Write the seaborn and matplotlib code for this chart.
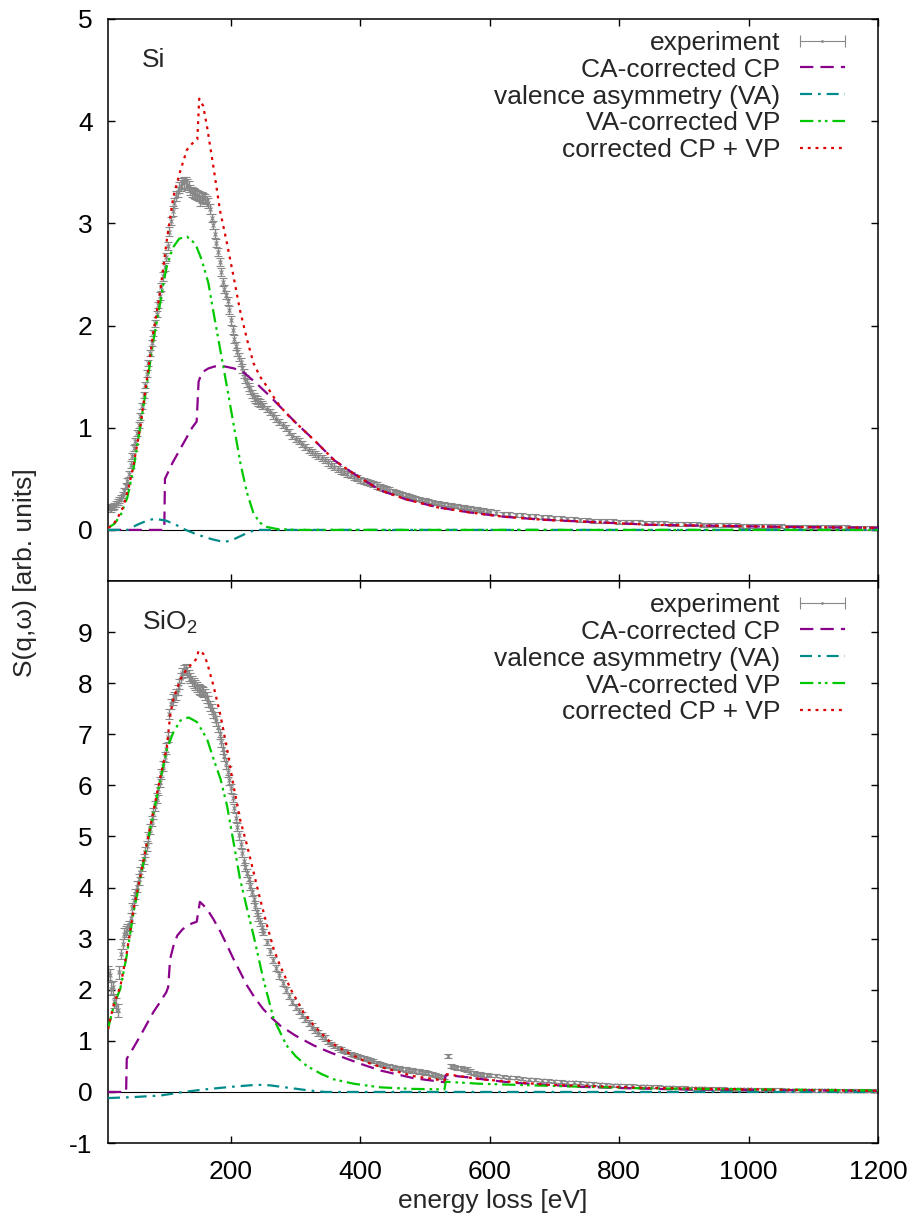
import numpy as np
import matplotlib
matplotlib.use("Agg")
import matplotlib.pyplot as plt
from matplotlib.legend_handler import HandlerErrorbar
from matplotlib.container import ErrorbarContainer
import seaborn as sns

# --- measurement energies [eV]: 2.5 eV steps to 250, 5 eV to 600, 10 eV to 1200 ---
E_EXP = np.concatenate([np.arange(10, 250, 2.5), np.arange(250, 600, 5),
                        np.arange(600, 1201, 10)])

# --- Si: experiment ---
SI_EXP = [
    0.22, 0.21, 0.21, 0.22, 0.23, 0.25, 0.27, 0.29, 0.31, 0.34,
    0.38, 0.43, 0.48, 0.55, 0.64, 0.72, 0.80, 0.87, 0.95, 1.03,
    1.11, 1.21, 1.32, 1.42, 1.53, 1.63, 1.73, 1.83, 1.93, 2.02,
    2.11, 2.20, 2.29, 2.38, 2.48, 2.57, 2.67, 2.78, 2.92, 3.02,
    3.12, 3.20, 3.27, 3.31, 3.35, 3.37, 3.39, 3.40, 3.40, 3.38,
    3.36, 3.33, 3.31, 3.30, 3.29, 3.28, 3.27, 3.22, 3.26, 3.25,
    3.24, 3.22, 3.20, 3.14, 3.05, 2.98, 2.90, 2.81, 2.72, 2.62,
    2.52, 2.43, 2.36, 2.30, 2.24, 2.15, 2.05, 1.96, 1.87, 1.80,
    1.74, 1.69, 1.64, 1.58, 1.53, 1.48, 1.44, 1.40, 1.37, 1.33,
    1.30, 1.28, 1.27, 1.25, 1.24, 1.22,
    1.21, 1.18, 1.15, 1.12, 1.09, 1.06, 1.03, 1.00, 0.96, 0.92,
    0.89, 0.87, 0.84, 0.81, 0.78, 0.76, 0.74, 0.72, 0.70, 0.68,
    0.66, 0.64, 0.62, 0.60, 0.58, 0.565, 0.55, 0.535, 0.52, 0.505,
    0.49, 0.48, 0.47, 0.46, 0.45, 0.435, 0.42, 0.41, 0.40, 0.39,
    0.38, 0.37, 0.36, 0.35, 0.34, 0.33, 0.32, 0.31, 0.30, 0.295,
    0.29, 0.28, 0.27, 0.265, 0.26, 0.255, 0.25, 0.245, 0.24, 0.235,
    0.23, 0.225, 0.22, 0.215, 0.21, 0.205, 0.20, 0.195, 0.19, 0.185,
    0.18, 0.17, 0.16, 0.155, 0.15, 0.145, 0.14, 0.135, 0.13, 0.125,
    0.12, 0.115, 0.11, 0.105, 0.10, 0.095, 0.09, 0.09, 0.085, 0.085,
    0.08, 0.08, 0.075, 0.075, 0.07, 0.07, 0.065, 0.065, 0.06, 0.06,
    0.06, 0.055, 0.055, 0.05, 0.05, 0.05, 0.045, 0.045, 0.045, 0.04,
    0.04, 0.04, 0.04, 0.035, 0.035, 0.035, 0.03, 0.03, 0.03, 0.03,
    0.03, 0.03, 0.025, 0.025, 0.025, 0.025, 0.02, 0.02, 0.02, 0.02, 0.02]
# error bar sizes, given as runs of equal size along the energy grid
SI_ERR_LEVELS = [0.03, 0.04, 0.05, 0.04, 0.03, 0.02]
SI_ERR_COUNTS = [32, 8, 24, 32, 40, 91]

# --- Si: theory ---
SI_CP_E = [10, 97, 98, 110, 125, 140, 147, 150, 155, 165, 175, 190, 205, 220, 240, 260,
           280, 300, 330, 360, 390, 430, 470, 520, 570, 620, 680, 750, 850, 950, 1050, 1200]
SI_CP = [0.0, 0.0, 0.50, 0.66, 0.83, 1.00, 1.06, 1.45, 1.54, 1.58, 1.60, 1.60, 1.58, 1.54,
         1.43, 1.31, 1.18, 1.05, 0.87, 0.68, 0.55, 0.39, 0.30, 0.22, 0.17, 0.13, 0.10,
         0.08, 0.05, 0.04, 0.03, 0.02]

SI_VA_E = [10, 40, 55, 70, 82, 100, 115, 130, 150, 170, 190, 205, 225, 238, 260, 1200]
SI_VA = [0.0, 0.0, 0.05, 0.09, 0.11, 0.09, 0.05, 0.0, -0.05, -0.09, -0.12, -0.09, -0.03,
         0.0, 0.0, 0.0]

SI_VP_E = [10, 20, 30, 40, 50, 60, 70, 80, 90, 100, 110, 120, 132, 145, 155, 165, 175,
           185, 195, 205, 215, 225, 235, 245, 255, 270, 300, 1200]
SI_VP = [0.02, 0.06, 0.15, 0.32, 0.62, 1.02, 1.42, 1.85, 2.20, 2.56, 2.76, 2.85, 2.87,
         2.80, 2.64, 2.42, 2.06, 1.71, 1.36, 1.00, 0.64, 0.36, 0.16, 0.07, 0.03, 0.01,
         0.0, 0.0]

SI_SUM_E = [10, 18, 25, 34, 42, 49, 60, 70, 80, 91, 101, 111, 122, 132, 140, 148, 151,
            157, 163, 173, 183, 194, 204, 214, 225, 235, 245, 256, 266, 276, 290, 300,
            330, 360, 390, 430, 470, 520, 570, 620, 680, 750, 850, 950, 1050, 1200]
SI_SUM = [0.02, 0.05, 0.12, 0.23, 0.42, 0.62, 1.01, 1.47, 1.93, 2.35, 2.84, 3.26, 3.52,
          3.72, 3.78, 3.82, 4.22, 4.15, 3.95, 3.55, 3.13, 2.80, 2.48, 2.15, 1.86, 1.63,
          1.50, 1.40, 1.30, 1.21, 1.11, 1.05, 0.87, 0.68, 0.55, 0.39, 0.30, 0.22, 0.17,
          0.13, 0.10, 0.08, 0.05, 0.04, 0.03, 0.02]

# --- SiO2: experiment ---
SIO2_EXP = [
    2.33, 2.28, 2.02, 2.05, 1.78, 1.70, 1.60, 2.34, 2.70, 2.90,
    3.10, 3.14, 3.18, 3.25, 3.40, 3.60, 3.76, 3.88, 4.02, 4.16,
    4.30, 4.43, 4.56, 4.69, 4.82, 4.98, 5.14, 5.30, 5.45, 5.60,
    5.76, 5.92, 6.07, 6.22, 6.38, 6.56, 6.72, 6.95, 7.40, 7.60,
    7.68, 7.73, 7.78, 7.86, 7.98, 8.10, 8.20, 8.26, 8.27, 8.22,
    8.15, 8.10, 8.05, 8.01, 7.96, 7.92, 7.89, 7.86, 7.84, 7.82,
    7.78, 7.72, 7.64, 7.56, 7.50, 7.42, 7.34, 7.26, 7.14, 7.00,
    6.85, 6.72, 6.58, 6.43, 6.27, 6.10, 5.94, 5.75, 5.56, 5.37,
    5.18, 5.02, 4.86, 4.68, 4.52, 4.40, 4.28, 4.16, 4.04, 3.91,
    3.78, 3.65, 3.52, 3.42, 3.32, 3.22,
    3.13, 2.93, 2.75, 2.58, 2.42, 2.28, 2.14, 2.00, 1.88, 1.76,
    1.66, 1.58, 1.50, 1.42, 1.35, 1.28, 1.22, 1.16, 1.10, 1.05,
    0.98, 0.94, 0.90, 0.86, 0.83, 0.80, 0.78, 0.75, 0.72, 0.70,
    0.68, 0.66, 0.65, 0.62, 0.60, 0.57, 0.55, 0.53, 0.51, 0.50,
    0.48, 0.47, 0.46, 0.45, 0.44, 0.43, 0.42, 0.41, 0.40, 0.39,
    0.38, 0.37, 0.35, 0.33, 0.31, 0.30, 0.30, 0.71, 0.50, 0.49,
    0.47, 0.46, 0.45, 0.44, 0.40, 0.37, 0.36, 0.35, 0.34, 0.33,
    0.33, 0.32, 0.30, 0.29, 0.28, 0.26, 0.25, 0.24, 0.23, 0.22,
    0.21, 0.20, 0.19, 0.185, 0.18, 0.17, 0.16, 0.15, 0.14, 0.135,
    0.13, 0.125, 0.12, 0.115, 0.11, 0.105, 0.10, 0.095, 0.09, 0.085,
    0.08, 0.075, 0.07, 0.07, 0.065, 0.06, 0.06, 0.055, 0.05, 0.05,
    0.05, 0.045, 0.045, 0.04, 0.04, 0.04, 0.035, 0.035, 0.035, 0.03,
    0.03, 0.03, 0.03, 0.03, 0.025, 0.025, 0.025, 0.02, 0.02, 0.02, 0.02]
SIO2_ERR_LEVELS = [0.13, 0.10, 0.08, 0.06, 0.04, 0.03]
SIO2_ERR_COUNTS = [8, 68, 20, 20, 50, 61]

# --- SiO2: theory ---
SIO2_CP_E = [10, 38, 39, 50, 60, 70, 80, 90, 100, 103, 106, 111, 117, 125, 132, 140, 147,
             150, 152, 157, 163, 173, 184, 194, 204, 215, 225, 237, 250, 263, 276, 300,
             328, 354, 379, 405, 431, 482, 530, 532, 564, 600, 636, 690, 740, 820, 894,
             1000, 1100, 1200]
SIO2_CP = [0.0, 0.0, 0.65, 0.88, 1.10, 1.33, 1.56, 1.75, 1.95, 2.05, 2.60, 2.85, 3.06,
           3.18, 3.25, 3.30, 3.33, 3.55, 3.72, 3.66, 3.58, 3.38, 3.13, 2.87, 2.60, 2.33,
           2.08, 1.84, 1.62, 1.45, 1.30, 1.10, 0.91, 0.77, 0.65, 0.53, 0.42, 0.27, 0.19,
           0.33, 0.29, 0.23, 0.18, 0.14, 0.10, 0.07, 0.05, 0.04, 0.03, 0.02]

SIO2_VA_E = [10, 50, 91, 127, 160, 200, 240, 260, 290, 320, 345, 1200]
SIO2_VA = [-0.12, -0.10, -0.07, 0.0, 0.05, 0.10, 0.14, 0.13, 0.08, 0.03, 0.0, 0.0]

SIO2_VP_E = [10, 19, 29, 39, 49.5, 60, 70, 80.5, 91, 101, 111, 122, 134.5, 147.5, 163,
             173, 184, 194, 204, 214, 225, 235, 250, 266, 286, 300, 317, 340, 358, 390,
             431, 480, 530, 532, 585, 690, 840, 1000, 1200]
SIO2_VP = [1.23, 1.69, 2.02, 2.67, 3.52, 4.17, 4.82, 5.47, 6.12, 6.71, 7.04, 7.27, 7.33,
           7.24, 6.91, 6.52, 6.12, 5.60, 4.89, 4.17, 3.58, 3.06, 2.21, 1.43, 0.91, 0.70,
           0.51, 0.35, 0.25, 0.16, 0.09, 0.06, 0.05, 0.20, 0.16, 0.12, 0.07, 0.05, 0.03]

SIO2_SUM_E = [10, 19, 29, 39, 49.5, 60, 70, 80.5, 91, 101, 106, 111, 122, 132, 142, 147,
              150, 157, 163, 173, 184, 194, 204, 214, 225, 235, 245, 256, 266, 276, 292,
              312, 328, 353, 379, 410, 431, 482, 530, 532, 585, 688, 843, 1000, 1200]
SIO2_SUM = [1.23, 1.72, 2.06, 2.72, 3.57, 4.22, 4.87, 5.52, 6.17, 6.75, 7.36, 7.69, 8.08,
            8.28, 8.41, 8.48, 8.64, 8.58, 8.41, 7.95, 7.36, 6.71, 5.99, 5.34, 4.82, 4.30,
            3.78, 3.25, 2.80, 2.47, 2.02, 1.56, 1.30, 0.98, 0.78, 0.58, 0.49, 0.31, 0.22,
            0.35, 0.25, 0.14, 0.08, 0.05, 0.02]

LABELS = ["experiment", "CA-corrected CP", "valence asymmetry (VA)",
          "VA-corrected VP", "corrected CP + VP"]

# --- styling ---
sns.set_theme(style="ticks")
plt.rcParams["font.family"] = ["Liberation Sans", "DejaVu Sans"]
plt.rcParams["mathtext.default"] = "regular"
plt.rcParams["axes.unicode_minus"] = False
FS = 19
GRAY = "#888888"
LINE_STYLES = [
    ("#8b008b", (0, (6, 3.2))),                      # CP
    ("#008b8b", (0, (5.4, 2.7, 1.2, 2.7))),          # VA
    ("#00c800", (0, (6, 2.2, 1.2, 1.8, 1.2, 2.2))),  # VP
    ("#dd0000", (0, (1.3, 2.2))),                    # CP + VP
]


def draw_panel(ax, exp_y, err_levels, err_counts, curves, ylim, yticks, name):
    ax.axhline(0, color="black", lw=0.8, zorder=1)
    exp_err = np.repeat(err_levels, err_counts)
    ax.errorbar(E_EXP, exp_y, yerr=exp_err, fmt="x", ms=3.5, mew=0.8,
                color=GRAY, ecolor=GRAY, elinewidth=1.0, capsize=3,
                capthick=1.0, zorder=2)
    handles = []
    for (ex, ey), (col, ls) in zip(curves, LINE_STYLES):
        sns.lineplot(x=ex, y=ey, ax=ax, color=col, linestyle=ls, lw=1.6,
                     estimator=None, sort=False, zorder=3)
        handles.append(ax.lines[-1])

    # legend proxy for the experiment, drawn as a horizontal error bar
    proxy = ax.errorbar([np.nan], [np.nan], xerr=[1.0], fmt=".", ms=2, color=GRAY,
                        ecolor=GRAY, elinewidth=0.8, capsize=4, capthick=0.8)
    ax.legend([proxy] + handles, LABELS, loc="upper right",
              bbox_to_anchor=(0.957, 0.979), borderaxespad=0, borderpad=0,
              frameon=False, markerfirst=False, fontsize=FS,
              handlelength=1.7, handletextpad=0.75, labelspacing=0.11,
              handler_map={ErrorbarContainer: HandlerErrorbar(xerr_size=0.85)})

    ax.text(0.044, 0.927, name, transform=ax.transAxes, fontsize=FS, va="center")
    ax.set_xlim(10, 1200)
    ax.set_ylim(*ylim)
    ax.set_xticks([200, 400, 600, 800, 1000, 1200])
    ax.set_yticks(yticks)
    ax.tick_params(direction="in", top=True, right=True, length=5, width=1,
                   labelsize=FS, pad=11, colors="black")
    for sp in ax.spines.values():
        sp.set_linewidth(1.1)
        sp.set_color("black")
    ax.set_xlabel("")
    ax.set_ylabel("")


fig = plt.figure(figsize=(9.16, 12.16), dpi=100)
ax_top = fig.add_axes([0.1179, 0.5222, 0.8406, 0.4622])
ax_bot = fig.add_axes([0.1179, 0.0600, 0.8406, 0.4622])

draw_panel(ax_top, SI_EXP, SI_ERR_LEVELS, SI_ERR_COUNTS,
           [(SI_CP_E, SI_CP), (SI_VA_E, SI_VA), (SI_VP_E, SI_VP), (SI_SUM_E, SI_SUM)],
           (-0.5, 5), [0, 1, 2, 3, 4, 5], "Si")
draw_panel(ax_bot, SIO2_EXP, SIO2_ERR_LEVELS, SIO2_ERR_COUNTS,
           [(SIO2_CP_E, SIO2_CP), (SIO2_VA_E, SIO2_VA), (SIO2_VP_E, SIO2_VP),
            (SIO2_SUM_E, SIO2_SUM)],
           (-1, 10), list(range(-1, 10)), "SiO$_2$")

ax_top.tick_params(labelbottom=False)
ax_bot.tick_params(axis="x", pad=12)
ax_bot.set_xlabel("energy loss [eV]", fontsize=FS, labelpad=4)
fig.text(0.027, 0.529, "S(q,\u03c9) [arb. units]", rotation=90, fontsize=FS,
         ha="center", va="center")

fig.savefig("out.png", dpi=100)
